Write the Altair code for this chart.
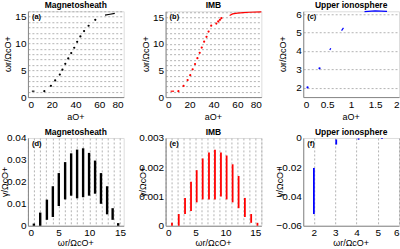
import altair as alt
import pandas as pd

FONT = "Liberation Sans"

# ---------------- (a) Magnetosheath: dispersion ----------------
a_dot_x = [13.8, 19.3, 22.9, 26.8, 29.0, 31.4, 33.9, 36.4, 38.9, 41.4, 44.1, 47.2, 51.0, 56.6]
a_dot_y = [1.1, 2.1, 3.1, 4.2, 5.1, 6.2, 7.2, 8.2, 9.2, 10.3, 11.3, 12.3, 13.3, 14.4]
a_seg1_x = [3.3, 5.5]
a_seg1_y = [1.1, 1.1]
a_seg2_x = [64.8, 69.0, 73.0]
a_seg2_y = [15.3, 15.45, 15.6]

# ---------------- (b) IMB: dispersion ----------------
b_dot_x = [10.7, 15.0, 18.4, 20.6, 22.6, 24.6, 26.6, 28.5, 30.2, 32.2, 34.2, 35.9, 38.1, 42.4, 44.0, 45.4, 46.6]
b_dot_y = [1.1, 2.1, 3.2, 4.1, 5.2, 6.2, 7.3, 8.3, 9.3, 10.4, 11.3, 12.3, 13.4, 13.8, 14.2, 14.5, 14.8]
b_seg1_x = [4.2, 7.1]
b_seg1_y = [1.1, 1.1]
b_seg2_x = [53.5, 56.0, 60.0, 65.0, 70.0, 80.0]
b_seg2_y = [15.3, 15.6, 15.75, 15.85, 15.92, 16.0]

# ---------------- (c) Upper ionosphere: dispersion ----------------
c_dot_x = [0.09, 0.34]
c_dot_y = [2.02, 3.06]
c_seg1_x = [0.555, 0.575]
c_seg1_y = [4.05, 4.15]
c_seg2_x = [0.80, 0.84]
c_seg2_y = [5.10, 5.25]
c_seg3_x = [1.28, 1.50, 1.75]
c_seg3_y = [6.13, 6.17, 6.15]

# ---------------- (d) Magnetosheath: growth rates ----------------
d_x = [0.97, 2.0, 3.09, 4.06, 5.03, 6.06, 7.04, 8.01, 8.99, 9.96, 10.94, 11.9, 12.9, 13.8, 14.7]
d_lo = [0.0, 0.0, 0.0027, 0.004, 0.009, 0.012, 0.0137, 0.0125, 0.013, 0.0137, 0.0146, 0.010, 0.0052, 0.0027, 0.0]
d_hi = [0.001, 0.006, 0.0119, 0.018, 0.024, 0.029, 0.033, 0.0347, 0.0353, 0.0332, 0.0297, 0.024, 0.018, 0.008, 0.0012]

# ---------------- (e) IMB: growth rates ----------------
e_x = [1.07, 2.2, 3.25, 4.25, 5.2, 6.2, 7.25, 8.25, 9.25, 10.2, 11.2, 12.2, 13.25, 14.3, 15.35]
e_lo = [0.0, 0.0, 0.0004, 0.0005, 0.0008, 0.0009, 0.0009, 0.0009, 0.0010, 0.0009, 0.0008, 0.0006, 0.0003, 0.0001, 0.0]
e_hi = [0.0001, 0.0004, 0.00095, 0.0015, 0.0019, 0.0023, 0.0025, 0.0026, 0.0025, 0.0024, 0.0021, 0.0017, 0.00095, 0.0004, 0.0001]

# ---------------- (f) Upper ionosphere: growth rates ----------------
f_x = [2.0, 3.05, 4.1, 5.2]
f_lo = [-0.052, -0.0045, -0.0012, -0.0005]
f_hi = [-0.0205, -0.001, -0.0003, 0.0]

titles = ["Magnetosheath", "IMB", "Upper ionosphere"]
colors = ["#000000", "#ff0000", "#0000ff"]
top_xtitle = "aO+"
top_ytitle = "ωr/ΩcO+"
bot_xtitle = "ωr/ΩcO+"
bot_ytitle = "γ/ΩcO+"

TOP_W, TOP_H = 96, 86
BOT_W, BOT_H = 96, 88
GRID = dict(grid=True, gridDash=[2, 2], gridColor="#a0a0a0", gridWidth=0.8)


def segs_df(segs):
    rows = []
    for i, (xs, ys) in enumerate(segs):
        for x, y in zip(xs, ys):
            rows.append({"x": x, "y": y, "g": i})
    return pd.DataFrame(rows)


def txt(s, x, y, size=8, weight="normal", align="center", angle=0):
    return alt.Chart(pd.DataFrame({"t": [s]})).mark_text(
        align=align, baseline="middle", font=FONT, fontSize=size, fontWeight=weight,
        color="black", angle=angle
    ).encode(x=alt.value(x), y=alt.value(y), text="t:N")


def decorations(title, label, xt, yt, w, h, xt_off, yt_off):
    return [
        txt(label, 4, 6, size=7.5, weight="bold", align="left"),
        txt(title, w / 2, -6, size=8.5, weight="bold"),
        txt(xt, w / 2, h + xt_off, size=9),
        txt(yt, yt_off, h / 2, size=9, angle=270),
    ]


def lab_expr(every):
    return f"abs(datum.value % {every}) < 1e-9 ? format(datum.value, '~f') : ''"


def top_panel(title, label, dx, dy, segs, color, xdom, xvals, ydom, yvals, lab_every):
    xs = alt.Scale(domain=xdom, nice=False, zero=False)
    ys = alt.Scale(domain=ydom, nice=False, zero=False)
    xax = alt.Axis(values=xvals, tickCount=50, format="~f", grid=False, ticks=False, title=None,
                   labelOverlap=False)
    yax = alt.Axis(values=yvals, tickCount=50, ticks=False, title=None,
                   labelExpr=lab_expr(lab_every), labelOverlap=False, **GRID)
    dots = alt.Chart(pd.DataFrame({"x": dx, "y": dy})).mark_circle(size=5, color=color, opacity=1).encode(
        x=alt.X("x:Q", scale=xs, axis=xax), y=alt.Y("y:Q", scale=ys, axis=yax))
    lines = alt.Chart(segs_df(segs)).mark_line(color=color, strokeWidth=1.2).encode(
        x=alt.X("x:Q", scale=xs), y=alt.Y("y:Q", scale=ys), detail="g:N")
    deco = decorations(title, label, top_xtitle, top_ytitle, TOP_W, TOP_H, 20, -20)
    return alt.layer(dots, lines, *deco).properties(width=TOP_W, height=TOP_H)


def bot_panel(title, label, bx, lo, hi, color, xdom, xvals, lab_every, ydom, yvals, sw):
    xs = alt.Scale(domain=xdom, nice=False, zero=False)
    ys = alt.Scale(domain=ydom, nice=False, zero=False)
    xax = alt.Axis(values=xvals, tickCount=50, ticks=False, title=None,
                   labelExpr=lab_expr(lab_every), labelOverlap=False, **GRID)
    yax = alt.Axis(values=yvals, tickCount=50, format="~f", grid=False, ticks=False, title=None,
                   labelOverlap=False)
    bars = alt.Chart(pd.DataFrame({"x": bx, "lo": lo, "hi": hi})).mark_rule(
        color=color, strokeWidth=sw).encode(
        x=alt.X("x:Q", scale=xs, axis=xax), y=alt.Y("lo:Q", scale=ys, axis=yax), y2="hi:Q")
    deco = decorations(title, label, bot_xtitle, bot_ytitle, BOT_W, BOT_H, 17, -23)
    return alt.layer(bars, *deco).properties(width=BOT_W, height=BOT_H)


pa = top_panel(titles[0], "(a)", a_dot_x, a_dot_y, [(a_seg1_x, a_seg1_y), (a_seg2_x, a_seg2_y)],
               colors[0], [0, 80.5], [0, 20, 40, 60, 80], [0, 16], list(range(0, 17)), 5)
pb = top_panel(titles[1], "(b)", b_dot_x, b_dot_y, [(b_seg1_x, b_seg1_y), (b_seg2_x, b_seg2_y)],
               colors[1], [0, 80], [0, 20, 40, 60, 80], [0, 16.1], list(range(0, 17)), 5)
pc = top_panel(titles[2], "(c)", c_dot_x, c_dot_y,
               [(c_seg1_x, c_seg1_y), (c_seg2_x, c_seg2_y), (c_seg3_x, c_seg3_y)],
               colors[2], [0, 2], [0, 0.5, 1, 1.5, 2], [1.5, 6.15], [2, 3, 4, 5, 6], 1)

pd_ = bot_panel(titles[0], "(d)", d_x, d_lo, d_hi, colors[0], [0, 15.6], list(range(0, 16)), 5,
                [0, 0.04], [0, 0.01, 0.02, 0.03, 0.04], 2.4)
pe = bot_panel(titles[1], "(e)", e_x, e_lo, e_hi, colors[1], [0, 16], list(range(0, 17)), 5,
               [0, 0.003], [0, 0.001, 0.002, 0.003], 1.8)
pf = bot_panel(titles[2], "(f)", f_x, f_lo, f_hi, colors[2], [1.5, 6], [2, 3, 4, 5, 6], 1,
               [-0.06, 0], [-0.06, -0.04, -0.02, 0], 1.8)

chart = alt.concat(pa, pb, pc, pd_, pe, pf, columns=3,
                   spacing={"row": 41, "column": 42}, bounds="flush").properties(
    padding={"left": 0, "top": 0, "right": 0, "bottom": 0}
).configure_view(stroke="#222222", strokeWidth=1).configure_axis(
    labelFont=FONT, labelFontSize=7.5, labelColor="black", domain=False, labelPadding=2
).configure(background="white")

chart.save("out.html", embed_options={"renderer": "svg", "actions": False})
